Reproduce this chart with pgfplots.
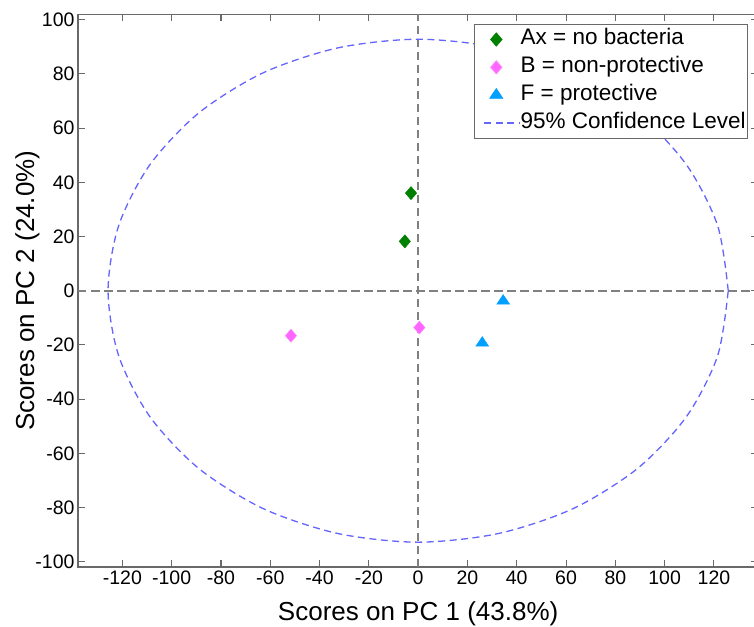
\documentclass[border=0pt]{standalone}
\usepackage{pgfplots}
\pgfplotsset{compat=1.18}
\usepackage{fontspec}
\setmainfont{Liberation Sans}
\definecolor{axgray}{RGB}{105,105,105}
\definecolor{zgray}{RGB}{128,128,128}
\definecolor{elblue}{RGB}{100,100,255}
\definecolor{mgreen}{RGB}{0,128,0}
\definecolor{mpink}{RGB}{255,102,255}
\definecolor{mblue}{RGB}{0,160,255}
\pgfplotsset{
  markleg/.style={legend image code/.code={\path[draw=none,fill=none] (-21pt,-6pt) rectangle (23pt,6pt); \draw[##1] plot coordinates {(0pt,0pt)};}},
  lineleg/.style={legend image code/.code={\path[draw=none,fill=none] (-21pt,-6pt) rectangle (23pt,6pt); \draw[##1] (-12pt,0pt) -- (23pt,0pt);}},
}
\begin{document}
\begin{tikzpicture}
\begin{axis}[
  name=ax,
  scale only axis, width=680.3pt, height=552.8pt,
  xmin=-138, xmax=138, ymin=-102, ymax=102,
  xtick={-120,-100,...,120}, ytick={-100,-80,...,100},
  tick align=inside, major tick length=7pt,
  axis line style={draw=axgray, line width=1.3pt},
  every tick/.style={draw=axgray, line width=1.1pt},
  ticklabel style={font=\fontsize{19.5}{21}\selectfont},
  /pgf/number format/assume math mode=true,
  xlabel={Scores on PC 1 (43.8\%)},
  ylabel={Scores on PC 2 (24.0\%)},
  xlabel style={font=\fontsize{26}{28}\selectfont, at={(axis cs:0,-102)}, anchor=center, yshift=-46.4pt},
  ylabel style={font=\fontsize{26}{28}\selectfont, at={(axis description cs:-0.0745,0.5)}, anchor=center},
  legend cell align=left,
  legend style={at={(1,1)}, anchor=north east, xshift=-10.4pt, yshift=-9.3pt,
    font=\fontsize{22.5}{24}\selectfont, draw=axgray, line width=0.8pt,
    inner xsep=1pt, inner ysep=1.6pt, row sep=0pt,
    nodes={inner xsep=0.7pt, inner ysep=3.4pt, text height=16pt, text depth=5pt}},
]
\addplot[forget plot, zgray, line width=2.3pt, dash pattern=on 8.5pt off 4.5pt] coordinates {(-138,0) (138,0)};
\addplot[forget plot, zgray, line width=2.3pt, dash pattern=on 8.5pt off 4.5pt] coordinates {(0,-102) (0,102)};

\addplot[only marks, mark=diamond*, mark size=6.6pt, mark options={draw=mgreen, fill=mgreen, xscale=1.15}, markleg]
  coordinates {(-2.9,36.0) (-5.4,18.2)};
\addlegendentry{Ax = no bacteria}

\addplot[only marks, mark=diamond*, mark size=6.6pt, mark options={draw=mpink!75!white, fill=mpink, xscale=1.15}, markleg]
  coordinates {(-51.6,-16.6) (0.5,-13.6)};
\addlegendentry{B = non-protective}

\addplot[only marks, mark=triangle*, mark size=7pt, mark options={draw=mblue, fill=mblue, xscale=1.07, yscale=0.92}, markleg]
  coordinates {(34.5,-3.8) (26.0,-19.3)};
\addlegendentry{F = protective}

\addplot[elblue, line width=1.3pt, dash pattern=on 7pt off 4.5pt, smooth, lineleg]
  coordinates {
  (125.8,0) (121.5,24.0) (108.9,46.4) (89.0,65.6) (62.9,80.4) (32.6,89.6)
  (0,92.8) (-32.6,89.6) (-62.9,80.4) (-89.0,65.6) (-108.9,46.4) (-121.5,24.0)
  (-125.8,0) (-121.5,-24.0) (-108.9,-46.4) (-89.0,-65.6) (-62.9,-80.4) (-32.6,-89.6)
  (0,-92.8) (32.6,-89.6) (62.9,-80.4) (89.0,-65.6) (108.9,-46.4) (121.5,-24.0)
  (125.8,0)};
\addlegendentry{95\% Confidence Level}
\end{axis}
\pgfresetboundingbox
\path ([xshift=-78pt,yshift=-59.3pt]ax.south west) rectangle ([xshift=676pt,yshift=14.3pt]ax.north west);
\end{tikzpicture}
\end{document}
